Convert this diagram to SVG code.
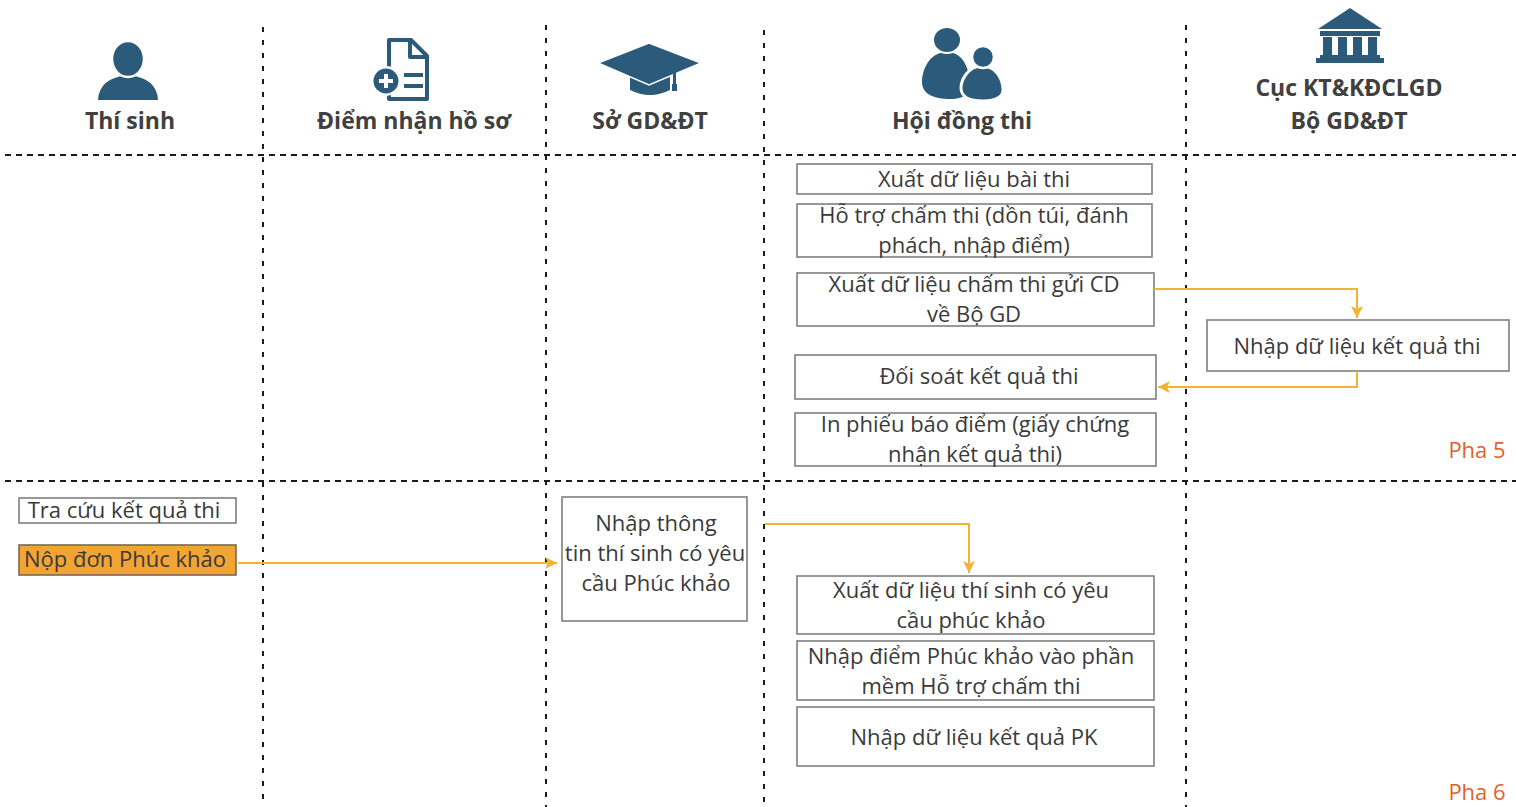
<svg xmlns="http://www.w3.org/2000/svg" width="1516" height="807" viewBox="0 0 1516 807">
<defs>
<style>
.hdr{font-family:"Open Sans","Liberation Sans",sans-serif;font-weight:bold;font-size:23px;fill:#404040;text-anchor:middle}
.t{font-family:"Open Sans","Liberation Sans",sans-serif;font-size:22px;fill:#3a3a3a;text-anchor:middle}
.box{fill:#fff;stroke:#7f7f7f;stroke-width:1.6}
.vl{stroke:#1a1a1a;stroke-width:2;stroke-dasharray:5 8;fill:none}
.hl{stroke:#1a1a1a;stroke-width:2.2;stroke-dasharray:6 5;fill:none}
.arr{stroke:#f2b233;stroke-width:2;fill:none;marker-end:url(#ah)}
.ico{fill:#2c5a7a}
.pha{font-family:"Open Sans","Liberation Sans",sans-serif;font-size:22px;fill:#e0622a;text-anchor:middle}
</style>
<marker id="ah" markerUnits="userSpaceOnUse" markerWidth="14" markerHeight="14" refX="12" refY="7" orient="auto">
<path d="M0,1 L12,7 L0,13 L3,7 Z" fill="#f2b233"/>
</marker>
</defs>
<rect width="1516" height="807" fill="#fff"/>

<g id="grid">
<line class="vl" x1="263" y1="27" x2="263" y2="807"/>
<line class="vl" x1="546" y1="25" x2="546" y2="807"/>
<line class="vl" x1="764" y1="30" x2="764" y2="807"/>
<line class="vl" x1="1186" y1="25" x2="1186" y2="807"/>
<line class="hl" x1="5" y1="155" x2="1516" y2="155"/>
<line class="hl" x1="5" y1="481" x2="1516" y2="481"/>
</g>

<g id="lane-thisinh">
<path class="ico" d="M98,100 Q99,78 128,75 Q157,78 158,100 Z"/>
<ellipse cx="128" cy="59" rx="16" ry="18" class="ico" stroke="#fff" stroke-width="2.5"/>
<text class="hdr" x="130" y="129">Thí sinh</text>
</g>

<g id="lane-diemnhan">
<path d="M389,40 H411 L427,56 V99 H389 Z" fill="none" stroke="#2c5a7a" stroke-width="4" stroke-linejoin="round"/>
<path d="M410,40 V57 H427" fill="none" stroke="#2c5a7a" stroke-width="4" stroke-linejoin="round"/>
<line x1="404" y1="75" x2="423" y2="75" stroke="#2c5a7a" stroke-width="4"/>
<line x1="404" y1="86" x2="423" y2="86" stroke="#2c5a7a" stroke-width="4"/>
<circle cx="386" cy="81" r="15" fill="#fff"/>
<circle cx="386" cy="81" r="12.5" class="ico"/>
<path d="M386,74 V88 M379,81 H393" stroke="#fff" stroke-width="4"/>
<text class="hdr" x="414" y="129">Điểm nhận hồ sơ</text>
</g>

<g id="lane-so">
<path class="ico" d="M630,72 V90 Q650,100 670,90 V72 Z"/>
<path class="ico" d="M598,63 L649,43 L701,63 L649,85 Z" stroke="#fff" stroke-width="1.5"/>
<rect x="673" y="66" width="3" height="20" class="ico"/>
<rect x="672" y="84" width="5" height="7" class="ico"/>
<text class="hdr" x="650" y="129">Sở GD&amp;ĐT</text>
</g>

<g id="lane-hoidong">
<path class="ico" d="M947,52 C928,52 922,72 922,82 C922,94 934,99 950,99 C966,99 972,92 970,80 C968,66 962,52 947,52 Z"/>
<ellipse cx="947" cy="40" rx="14" ry="13" class="ico" stroke="#fff" stroke-width="2"/>
<path class="ico" stroke="#fff" stroke-width="3" d="M982,66 C968,66 961,80 961,88 C961,97 970,101 983,101 C996,101 1004,97 1003,88 C1002,78 996,66 982,66 Z"/>
<circle cx="983" cy="57" r="11" class="ico" stroke="#fff" stroke-width="2.5"/>
<text class="hdr" x="962" y="129">Hội đồng thi</text>
</g>

<g id="lane-cuc">
<path class="ico" d="M1350,8 L1318,29 H1382 Z"/>
<rect x="1320" y="31" width="60" height="5" class="ico"/>
<rect x="1323" y="37" width="9" height="18" class="ico"/>
<rect x="1338" y="37" width="9" height="18" class="ico"/>
<rect x="1353" y="37" width="9" height="18" class="ico"/>
<rect x="1368" y="37" width="9" height="18" class="ico"/>
<rect x="1320" y="55" width="60" height="3" class="ico"/>
<rect x="1316" y="58" width="68" height="5" class="ico"/>
<text class="hdr" x="1349" y="96">Cục KT&amp;KĐCLGD</text>
<text class="hdr" x="1349" y="129">Bộ GD&amp;ĐT</text>
</g>

<g id="n-xuat-bai-thi">
<rect class="box" x="797" y="164" width="355" height="30"/>
<text class="t" x="974" y="187">Xuất dữ liệu bài thi</text>
</g>
<g id="n-ho-tro">
<rect class="box" x="797" y="204" width="355" height="53"/>
<text class="t" x="974" y="223">Hỗ trợ chấm thi (dồn túi, đánh</text>
<text class="t" x="974" y="253">phách, nhập điểm)</text>
</g>
<g id="n-xuat-cham-thi">
<rect class="box" x="797" y="273" width="357" height="53"/>
<text class="t" x="974" y="292">Xuất dữ liệu chấm thi gửi CD</text>
<text class="t" x="974" y="322">về Bộ GD</text>
</g>
<g id="n-doi-soat">
<rect class="box" x="795" y="355" width="361" height="44"/>
<text class="t" x="979" y="384">Đối soát kết quả thi</text>
</g>
<g id="n-in-phieu">
<rect class="box" x="795" y="413" width="361" height="53"/>
<text class="t" x="975" y="432">In phiếu báo điểm (giấy chứng</text>
<text class="t" x="975" y="462">nhận kết quả thi)</text>
</g>
<g id="n-nhap-kq-thi">
<rect class="box" x="1207" y="320" width="302" height="51"/>
<text class="t" x="1357" y="354">Nhập dữ liệu kết quả thi</text>
</g>
<text class="pha" x="1477" y="458">Pha 5</text>

<g id="n-tra-cuu">
<rect class="box" x="19" y="498" width="217" height="25"/>
<text class="t" x="124" y="518">Tra cứu kết quả thi</text>
</g>
<g id="n-nop-don">
<rect x="19" y="545" width="217" height="30" fill="#f3a533" stroke="#7a6a50" stroke-width="1.6"/>
<text class="t" x="125" y="567">Nộp đơn Phúc khảo</text>
</g>
<g id="n-nhap-thong-tin">
<rect class="box" x="562" y="497" width="185" height="124"/>
<text class="t" x="656" y="531">Nhập thông</text>
<text class="t" x="655" y="561">tin thí sinh có yêu</text>
<text class="t" x="656" y="591">cầu Phúc khảo</text>
</g>
<g id="n-xuat-ts-pk">
<rect class="box" x="797" y="576" width="357" height="58"/>
<text class="t" x="971" y="598">Xuất dữ liệu thí sinh có yêu</text>
<text class="t" x="971" y="628">cầu phúc khảo</text>
</g>
<g id="n-nhap-diem-pk">
<rect class="box" x="797" y="641" width="357" height="59"/>
<text class="t" x="971" y="664">Nhập điểm Phúc khảo vào phần</text>
<text class="t" x="971" y="694">mềm Hỗ trợ chấm thi</text>
</g>
<g id="n-nhap-kq-pk">
<rect class="box" x="797" y="707" width="357" height="59"/>
<text class="t" x="974" y="745">Nhập dữ liệu kết quả PK</text>
</g>
<text class="pha" x="1477" y="800">Pha 6</text>

<g id="connectors">
<path class="arr" d="M1154,289 H1357 V318"/>
<path class="arr" d="M1357,371 V387 H1158"/>
<path class="arr" d="M238,563 H557"/>
<path class="arr" d="M765,524 H969 V573"/>
</g>
</svg>
